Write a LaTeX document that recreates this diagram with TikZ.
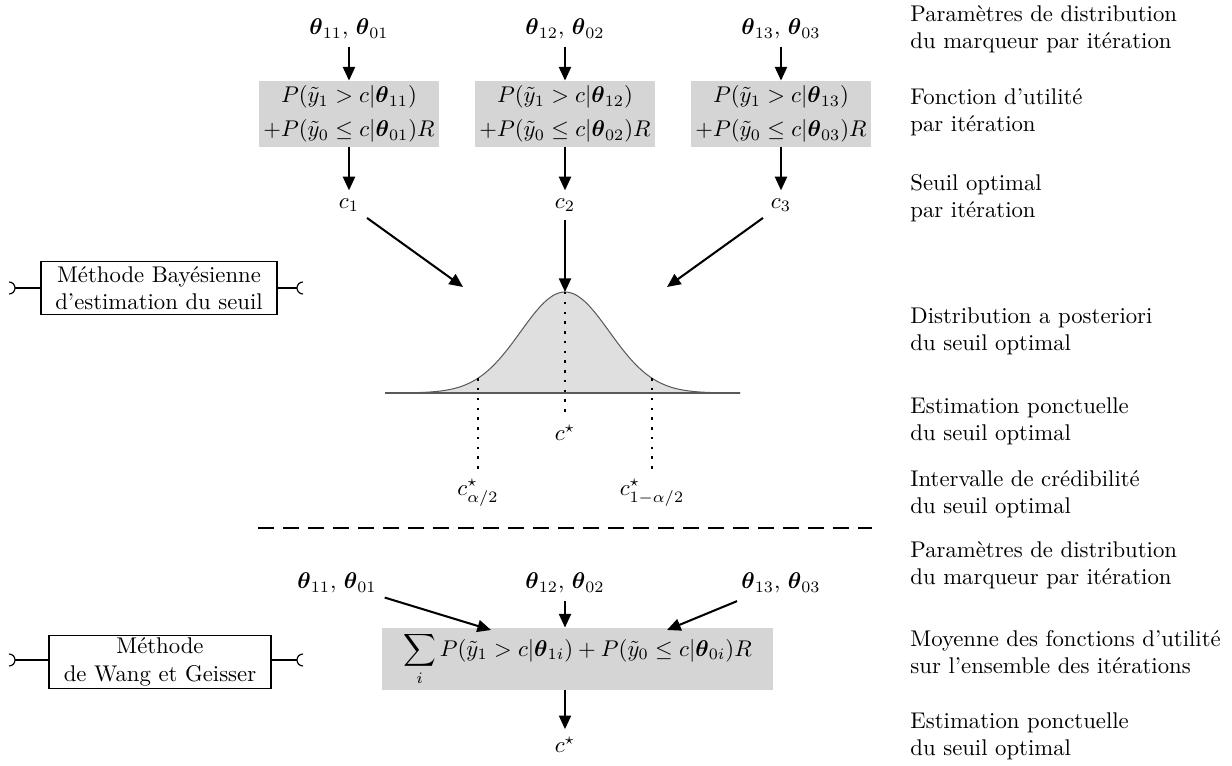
\documentclass[tikz,border=0pt]{standalone}
\usepackage{amsmath,amssymb}
\usetikzlibrary{arrows.meta}
\newcommand{\bth}{\boldsymbol{\theta}}
\begin{document}
\begin{tikzpicture}[x=0.44pt,y=-0.44pt,
  conn/.style={line width=0.9pt,-{Triangle[length=6pt,width=5.3pt]}},
  util/.style={fill=gray!33,align=center,inner xsep=2pt,inner ysep=2pt},
  meth/.style={draw,line width=0.5pt,align=center,inner sep=1pt},
  desc/.style={anchor=west,align=left,inner sep=0pt},
  curve/.style={draw=black!65,line width=0.45pt},
  dotline/.style={line width=0.55pt,dash pattern=on 1.1pt off 3.2pt},
  sep/.style={line width=0.5pt,dash pattern=on 7pt off 4pt},
  plug/.style={line width=0.5pt}]
\useasboundingbox (0,0) rectangle (1232,766);

% ---------- Bayesian method ----------
\node (t1) at (349,29) {$\bth_{11}$, $\bth_{01}$};
\node (t2) at (565,29) {$\bth_{12}$, $\bth_{02}$};
\node (t3) at (781,29) {$\bth_{13}$, $\bth_{03}$};

\node[util] (u1) at (349,114) {$P(\tilde y_1>c|\bth_{11})$\\[3pt]$+P(\tilde y_0\le c|\bth_{01})R$};
\node[util] (u2) at (565,114) {$P(\tilde y_1>c|\bth_{12})$\\[3pt]$+P(\tilde y_0\le c|\bth_{02})R$};
\node[util] (u3) at (781,114) {$P(\tilde y_1>c|\bth_{13})$\\[3pt]$+P(\tilde y_0\le c|\bth_{03})R$};

\node (c1) at (349,205) {$c_1$};
\node (c2) at (565,205) {$c_2$};
\node (c3) at (781,205) {$c_3$};

\foreach \i in {1,2,3} {
  \draw[conn] (t\i) -- (u\i);
  \draw[conn] (u\i) -- (c\i);
}

% posterior density of the optimal threshold
\fill[gray!25] (385,393) -- plot[domain=-4.05:3.95,samples=140]
  ({565+44.4*\x},{393-101*exp(-\x*\x/2)}) -- (740,393) -- cycle;
\draw[curve] plot[domain=-4.05:3.95,samples=140]
  ({565+44.4*\x},{393-101*exp(-\x*\x/2)});
\draw[curve] (385,393) -- (740,393);

\coordinate (g1) at (463,287);
\coordinate (pk) at (565,292);
\coordinate (g3) at (667,287);
\draw[conn] (c1) -- (g1);
\draw[conn] (c2) -- (pk);
\draw[conn] (c3) -- (g3);

\coordinate (qa) at (478,378.2);
\coordinate (qb) at (652,378.2);
\node (cs) at (565,433) {$c^\star$};
\node (ca) at (478,493) {$c^\star_{\alpha/2}$};
\node (cb) at (652,493) {$c^\star_{1-\alpha/2}$};
\draw[dotline] (pk) -- (cs);
\draw[dotline] (qa) -- (ca);
\draw[dotline] (qb) -- (cb);

% ---------- separator ----------
\coordinate (d1) at (258,528);
\coordinate (d2) at (872,528);
\draw[sep] (d1) -- (d2);

% ---------- Wang and Geisser method ----------
\node (w1) at (337,583) {$\bth_{11}$, $\bth_{01}$};
\node (w2) at (565,583) {$\bth_{12}$, $\bth_{02}$};
\node (w3) at (781,583) {$\bth_{13}$, $\bth_{03}$};
\node[util,minimum width=172pt,minimum height=26pt] (sum) at (577.5,659)
  {$\displaystyle\sum_i P(\tilde y_1>c|\bth_{1i})+P(\tilde y_0\le c|\bth_{0i})R$};
\coordinate (e1) at (491,630);
\coordinate (e3) at (667,630);
\node (cw) at (565,745) {$c^\star$};
\draw[conn] (w1) -- (e1);
\draw[conn] (w2) -- (w2 |- sum.north);
\draw[conn] (w3) -- (e3);
\draw[conn] (sum.south -| cw) -- (cw);

% ---------- method labels with plug ends ----------
\node[meth,minimum width=103.8pt,minimum height=23.3pt] (m1) at (159,288)
  {Méthode Bayésienne\\d'estimation du seuil};
\node[meth,minimum width=97.7pt,minimum height=23pt] (m2) at (160,662)
  {Méthode\\de Wang et Geisser};
\foreach \m/\y in {m1/288,m2/660} {
  \coordinate (\m b) at (15,\y);
  \coordinate (\m s) at (297,\y);
  \draw[plug] (\m b) -- (\m b -| \m.west);
  \draw[plug] (\m s -| \m.east) -- (\m s);
  \draw[plug] (\m b) ++(-6,-6) arc[start angle=-90,end angle=90,radius=6];
  \draw[plug] (\m s) ++(6,-6) arc[start angle=270,end angle=90,radius=6];
}

% ---------- step descriptions ----------
\node[desc] (r1) at (910,29)  {Paramètres de distribution\\du marqueur par itération};
\node[desc] (r2) at (910,112) {Fonction d'utilité\\par itération};
\node[desc] (r3) at (910,198) {Seuil optimal\\par itération};
\node[desc] (r4) at (910,331) {Distribution a posteriori\\du seuil optimal};
\node[desc] (r5) at (910,421) {Estimation ponctuelle\\du seuil optimal};
\node[desc] (r6) at (910,494) {Intervalle de crédibilité\\du seuil optimal};
\node[desc] (r7) at (910,565) {Paramètres de distribution\\du marqueur par itération};
\node[desc] (r8) at (910,652) {Moyenne des fonctions d'utilité\\sur l'ensemble des itérations};
\node[desc] (r9) at (910,736) {Estimation ponctuelle\\du seuil optimal};
\end{tikzpicture}
\end{document}
